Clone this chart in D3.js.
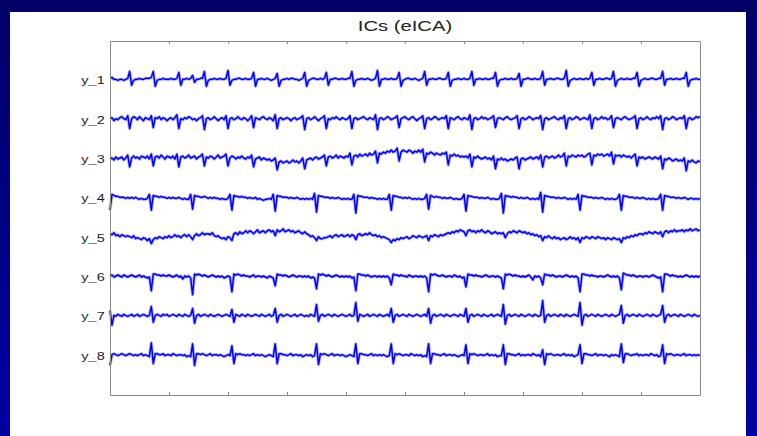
<!DOCTYPE html>
<html>
<head>
<meta charset="utf-8">
<script src="https://cdn.jsdelivr.net/npm/d3@7"></script>
<style>
  html, body { margin: 0; padding: 0; background: #fff; }
  svg { display: block; }
  text { font-family: "Liberation Sans", Arial, Helvetica, sans-serif; }
</style>
</head>
<body>
<svg id="chart" width="757" height="436"></svg>
<script>
// Channel names shown on the y axis, top to bottom
const channelLabels = ["y_1", "y_2", "y_3", "y_4", "y_5", "y_6", "y_7", "y_8"];
// Sample positions of the (unlabelled) x-axis ticks
const xTickValues = [30, 60, 90, 120, 150, 180, 210, 240, 270];
const titleText = "ICs (eICA)";

// Separated components, 301 samples each (10 samples per row)
const ch1 = [
  2,3,1,1,0,1,1,0,1,2,
  9,-5,0,1,1,2,1,1,2,2,
  2,3,9,-6,0,1,1,2,1,1,
  1,2,1,1,2,8,-5,1,1,2,
  1,2,5,-2,1,1,2,2,9,-6,
  0,1,1,2,1,1,2,1,1,2,
  10,-5,0,1,1,2,2,1,1,2,
  1,1,2,8,-6,1,1,2,1,1,
  2,1,0,1,2,7,-6,0,1,1,
  2,1,2,2,1,1,0,1,2,8,
  -6,0,1,2,2,1,1,2,1,2,
  8,-5,1,1,2,2,1,1,2,1,
  1,2,2,9,-6,0,1,1,2,1,
  1,2,1,0,1,2,10,-6,1,1,
  2,1,1,2,1,1,2,8,-6,0,
  1,2,2,1,1,2,1,0,1,2,
  9,-5,1,1,2,1,1,2,2,1,
  1,2,8,-6,0,1,1,2,1,1,
  2,1,1,2,9,-5,1,1,2,1,
  1,2,1,1,2,2,8,-6,0,1,
  1,2,1,1,2,1,1,2,7,-6,
  1,1,2,2,1,1,2,1,1,2,
  9,-5,1,1,2,1,1,2,2,1,
  1,2,10,-6,0,1,2,1,1,2,
  1,1,2,1,2,8,-5,1,1,2,
  1,1,2,2,1,2,9,-6,0,1,
  2,1,1,2,1,1,2,2,8,-6,
  0,1,2,1,1,2,2,1,1,2,
  2,9,-5,1,1,2,1,1,2,1,
  1,2,2,8,-6,0,1,1,2,1,
  1
];
const ch2 = [
  1,2,-1,1,0,2,3,1,0,4,
  -9,1,3,2,0,3,1,-1,2,1,
  0,4,-8,2,1,3,0,2,1,-1,
  1,2,0,2,5,-9,1,0,2,1,
  3,2,0,1,-1,1,2,4,-10,1,
  2,0,1,3,1,-1,1,2,0,4,
  -9,1,2,0,1,3,1,0,2,1,
  -1,1,4,-8,2,1,0,2,3,1,
  0,2,1,-1,5,-9,1,2,0,1,
  2,1,-1,1,2,0,1,2,4,-10,
  1,2,0,1,3,1,-1,1,2,4,
  -9,1,0,2,1,3,1,0,2,1,
  0,1,4,-9,1,2,0,1,2,3,
  1,0,2,1,0,5,-10,1,2,0,
  1,3,2,0,1,2,4,-8,1,2,
  3,1,0,2,3,1,-1,1,2,4,
  -9,1,2,0,1,3,2,0,1,2,
  1,4,-9,2,1,0,2,3,1,0,
  2,1,0,5,-10,1,2,0,1,3,
  1,2,0,1,2,4,-8,1,2,1,
  0,2,3,1,0,1,2,4,-9,1,
  2,0,1,3,2,0,1,2,1,4,
  -10,1,2,0,1,2,3,1,0,2,
  1,4,-9,1,2,0,1,3,2,0,
  1,2,1,0,5,-9,1,2,0,1,
  3,1,2,0,1,4,-8,1,2,1,
  0,2,3,1,0,1,2,4,-9,1,
  2,0,1,3,1,0,2,1,3,1,
  4,-10,1,2,0,1,3,2,0,1,
  2,1,4,-9,1,2,0,1,3,2,
  3
];
const ch3 = [
  0,1,-1,2,0,1,2,-1,1,4,
  -8,1,3,1,2,0,3,2,1,3,
  0,5,-7,2,3,1,4,2,0,3,
  2,1,3,0,5,-8,2,3,1,2,
  4,1,2,3,0,2,3,5,-7,2,
  1,3,2,0,2,4,1,2,3,5,
  -7,1,3,2,0,2,1,3,1,0,
  2,1,4,-8,0,1,2,-1,1,0,
  -1,0,-2,-1,1,-11,-3,-2,-4,-3,
  -2,-4,-3,-1,-3,-2,-4,-2,1,-10,
  -1,0,1,-1,1,2,0,1,2,4,
  -7,2,3,1,2,4,1,3,2,1,
  3,2,6,-6,3,4,2,5,3,4,
  5,3,6,4,5,8,-4,6,5,7,
  6,8,7,9,7,8,11,-2,7,9,
  8,7,9,8,6,8,7,9,7,10,
  -3,6,5,7,6,4,6,5,4,6,
  5,7,-6,4,3,5,3,4,2,3,
  2,3,1,5,-8,2,1,3,1,0,
  1,2,0,1,-1,3,-10,0,-1,1,
  -1,0,-2,-1,0,-1,1,2,-10,0,
  1,-1,0,1,2,0,1,2,0,4,
  -8,2,3,1,2,3,1,2,4,2,
  3,6,-7,3,2,4,3,2,4,3,
  4,2,3,5,6,-6,4,3,5,4,
  5,3,4,5,3,7,-5,4,3,4,
  2,4,3,2,3,1,3,5,-7,2,
  1,2,0,1,2,1,0,2,1,0,
  3,-10,0,-1,1,0,-2,-1,0,-2,
  -1,-2,1,-12,-2,-3,-1,-3,-4,-2,
  -3
];
const ch4 = [
  -12,4,3,2,2,1,1,1,0,1,
  0,1,0,1,0,-1,0,-1,-1,0,
  4,-12,3,2,2,1,2,1,1,0,
  1,0,1,0,0,1,0,-1,0,-1,
  -1,4,-11,3,2,2,1,1,2,1,
  0,1,0,1,0,0,-1,0,-1,-1,
  0,4,-12,3,2,2,1,2,1,1,
  0,1,0,0,1,-1,0,-1,-2,-1,
  -1,0,-1,4,-13,3,2,2,1,1,
  1,0,1,0,0,1,0,-1,0,-1,
  0,-1,0,-1,5,-14,3,2,2,1,
  1,1,0,1,0,0,1,0,-1,0,
  -1,0,-1,-1,4,-15,3,2,2,1,
  1,1,0,1,0,0,-1,0,-1,0,
  -1,-1,4,-12,3,2,2,1,1,0,
  1,0,1,0,-1,0,-1,0,-1,-1,
  0,4,-11,3,2,1,2,1,1,0,
  1,0,0,1,0,-1,0,-1,-1,0,
  4,-13,3,2,2,1,1,1,0,1,
  0,0,1,0,-1,0,-1,-1,0,5,
  -15,3,2,2,1,2,1,1,0,1,
  0,0,1,0,-1,0,-1,0,-1,6,
  -14,3,2,2,1,1,1,0,1,0,
  0,1,0,-1,0,-1,0,-1,4,-12,
  3,2,2,1,1,1,0,1,0,0,
  1,0,-1,0,-1,0,-1,-1,0,4,
  -12,3,2,2,1,1,1,0,1,0,
  0,1,0,-1,0,-1,0,-1,-1,0,
  4,-12,3,2,2,1,1,1,0,1,
  0,0,1,0,-1,0,0,-1,0,-1,
  0
];
const ch5 = [
  4,3,5,2,3,1,3,2,1,2,
  1,0,2,-1,0,-1,-2,0,-1,-3,
  -1,-6,-2,0,-1,1,0,-1,1,0,
  2,0,1,3,1,2,0,2,3,1,
  3,1,-2,2,4,2,3,5,3,4,
  4,3,5,2,1,2,0,-1,0,-2,
  1,0,-3,4,5,3,6,4,5,7,
  5,7,6,4,6,8,5,6,7,5,
  7,8,6,7,2,8,6,7,9,6,
  7,8,6,7,5,6,7,5,4,6,
  4,3,1,2,0,-3,1,-1,-1,0,
  0,1,2,0,2,3,1,2,3,1,
  2,3,1,3,2,-2,3,4,2,3,
  4,3,5,3,2,3,1,2,0,1,
  0,-1,-2,-5,-2,-3,-1,-2,0,-1,
  0,1,-1,0,2,1,0,2,1,0,
  1,2,-3,2,1,3,2,1,3,2,
  3,4,5,4,6,5,7,6,8,7,
  6,2,7,8,6,7,5,7,6,8,
  6,5,7,6,4,5,6,4,5,4,
  5,0,4,6,5,7,6,5,7,6,
  5,6,4,5,3,4,2,3,1,2,
  -3,1,0,2,0,-1,1,-1,0,-2,
  -1,0,-2,-1,1,-1,0,-2,0,-5,
  0,-1,1,0,-1,1,0,-1,1,0,
  -1,0,-2,0,-1,-2,0,-1,-2,-1,
  -5,0,-1,1,0,2,1,3,2,4,
  4,3,5,4,6,5,4,6,5,4,
  6,1,6,7,5,7,6,8,6,7,
  7,8,6,8,7,9,7,8,9,7,
  8
];
const ch6 = [
  1,2,0,1,2,1,0,2,1,0,
  1,2,1,0,1,2,0,1,0,-1,
  0,-14,3,3,2,2,1,2,1,1,
  2,1,0,1,2,0,1,-2,1,0,
  1,-1,-18,3,2,3,2,1,2,1,
  0,1,2,1,0,1,0,1,-1,0,
  1,0,-15,3,2,3,2,1,2,1,
  1,0,1,2,0,1,1,0,1,0,
  -1,1,0,-1,-9,3,2,2,1,2,
  1,0,1,2,1,0,1,1,0,1,
  0,1,-1,0,-1,-12,3,2,3,2,
  1,2,1,0,1,2,1,0,1,0,
  1,0,1,-1,0,-14,3,3,2,2,
  1,2,1,0,1,1,0,1,0,1,
  0,1,-1,-8,3,2,2,1,2,1,
  1,0,2,1,0,1,1,0,1,0,
  1,-1,-15,3,2,3,2,1,1,2,
  1,0,1,1,0,2,1,0,1,-1,
  0,-10,3,2,2,1,2,1,1,0,
  1,2,1,0,1,1,0,1,0,-1,
  -12,3,2,3,2,1,2,1,1,0,
  1,0,1,2,0,-3,1,0,1,-1,
  -8,3,2,2,1,2,1,0,1,1,
  0,1,2,1,0,1,0,1,-1,-15,
  3,3,2,2,1,2,1,1,0,1,
  1,0,1,2,1,0,1,0,1,-1,
  -13,4,3,2,2,1,2,1,0,1,
  1,0,1,1,0,1,2,1,0,-1,
  0,-15,3,3,2,1,2,1,1,0,
  1,0,1,2,1,0,1,0,1,0,
  1
];
const ch7 = [
  6,-9,1,0,2,1,0,2,1,0,
  1,2,0,1,2,0,1,2,1,0,
  1,10,-6,1,2,1,0,2,1,2,
  0,1,2,1,0,2,1,0,2,1,
  0,1,8,-7,1,2,0,1,2,1,
  0,2,1,0,1,2,1,0,1,2,
  1,0,7,-6,2,1,0,2,1,0,
  2,1,0,1,2,1,0,2,1,0,
  1,2,0,1,8,-6,1,2,0,1,
  2,1,0,1,2,0,1,2,1,0,
  1,0,2,1,0,12,-5,1,2,0,
  1,2,1,0,2,1,0,1,2,1,
  0,1,2,0,1,14,-5,2,1,0,
  1,2,0,1,2,1,0,2,1,0,
  1,2,0,8,-6,1,2,0,1,2,
  1,0,2,1,0,1,2,1,0,1,
  2,0,8,-7,1,2,0,1,2,1,
  0,2,1,0,1,2,1,0,2,1,
  0,8,-6,1,2,0,1,2,1,0,
  2,1,0,1,2,0,1,2,1,0,
  12,-8,1,2,0,1,2,1,0,2,
  1,0,1,2,1,0,2,1,0,1,
  16,-6,1,2,0,1,2,1,0,2,
  1,0,2,1,0,1,2,1,0,14,
  -9,1,2,0,1,2,1,0,2,1,
  0,1,2,1,0,2,1,0,1,2,
  11,-7,1,2,0,1,2,1,0,2,
  1,0,1,2,1,0,2,1,0,1,
  2,11,-6,1,2,0,1,2,1,0,
  2,1,0,1,2,1,0,2,1,0,
  1
];
const ch8 = [
  -10,1,2,1,0,1,2,1,0,1,
  2,1,0,1,0,1,2,0,1,0,
  -1,13,-8,2,2,1,1,2,0,1,
  1,0,2,1,0,1,1,0,1,-1,
  0,-1,12,-10,2,2,1,2,1,0,
  1,2,0,1,1,0,1,0,-1,0,
  1,0,10,-8,2,1,2,1,1,0,
  1,0,1,2,0,1,0,1,0,-1,
  0,1,0,-1,12,-8,2,2,1,1,
  0,1,2,0,1,1,0,1,-1,0,
  1,0,1,-1,0,12,-9,2,1,2,
  1,0,1,2,0,1,1,0,1,0,
  -1,0,1,0,-1,12,-8,2,2,1,
  1,0,1,2,0,1,0,1,0,1,
  0,-1,0,12,-8,2,1,2,1,0,
  1,1,0,2,1,0,1,0,1,-1,
  0,-1,12,-8,2,2,1,1,0,1,
  2,0,1,1,0,1,0,-1,0,1,
  0,11,-8,2,1,2,1,0,1,1,
  0,1,2,0,1,0,1,-1,0,0,
  11,-9,2,2,1,1,0,1,2,0,
  1,0,1,1,0,2,1,0,1,-1,
  6,-9,2,1,2,1,0,1,1,0,
  1,2,0,1,0,1,-1,0,1,11,
  -8,2,2,1,1,0,1,2,0,1,
  1,0,1,0,-1,1,0,1,0,-1,
  12,-7,2,2,1,0,1,1,2,0,
  1,0,1,1,0,2,1,0,1,-1,
  0,11,-8,2,1,2,1,0,1,1,
  0,1,2,0,1,1,0,1,0,1,
  0
];
const channels = [ch1, ch2, ch3, ch4, ch5, ch6, ch7, ch8];

const width = 757, height = 436;
const svg = d3.select("#chart");

// Slide backdrop: blue frame with a white panel
const defs = svg.append("defs");
const grad = defs.append("linearGradient")
  .attr("id", "slideBg").attr("x1", 0).attr("y1", 0).attr("x2", 0).attr("y2", 1);
grad.append("stop").attr("offset", "0%").attr("stop-color", "#000066");
grad.append("stop").attr("offset", "100%").attr("stop-color", "#0000a3");
svg.append("rect").attr("width", width).attr("height", height).attr("fill", "url(#slideBg)");
svg.append("rect").attr("x", 10).attr("y", 12).attr("width", 736).attr("height", height - 12)
  .attr("fill", "#ffffff");

const plot = { left: 110, right: 700, top: 41, bottom: 395 };
const nSamples = ch1.length;
const x = d3.scaleLinear().domain([0, nSamples - 1]).range([plot.left, plot.right]);
const y = d3.scaleLinear().domain([0, 9]).range([plot.top, plot.bottom]);
const unitsPerChannel = 40; // amplitude units per channel spacing

// Traces: a soft wide stroke under a solid core gives the dense-signal look
const traceGroup = svg.append("g");
channels.forEach((vals, k) => {
  const line = d3.line()
    .x((v, i) => x(i))
    .y(v => y(k + 1 - v / unitsPerChannel));
  const d = line(vals);
  traceGroup.append("path")
    .attr("d", d)
    .attr("fill", "none")
    .attr("stroke", "#0000ff")
    .attr("stroke-opacity", 0.3)
    .attr("stroke-width", 3.2)
    .attr("stroke-linejoin", "round");
  traceGroup.append("path")
    .attr("d", d)
    .attr("fill", "none")
    .attr("stroke", "#0000ff")
    .attr("stroke-width", 1.5)
    .attr("stroke-linejoin", "round");
});

// Axes box with inward ticks
const axisColor = "#8a8a8a";
function styleAxis(g) {
  g.selectAll(".domain").attr("stroke", axisColor);
  g.selectAll(".tick line").attr("stroke", axisColor);
}
svg.append("g")
  .attr("transform", `translate(0,${plot.bottom})`)
  .call(d3.axisBottom(x).tickValues(xTickValues).tickSizeInner(-3).tickSizeOuter(0).tickFormat(""))
  .call(styleAxis);
svg.append("g")
  .attr("transform", `translate(0,${plot.top})`)
  .call(d3.axisTop(x).tickValues(xTickValues).tickSizeInner(-3).tickSizeOuter(0).tickFormat(""))
  .call(styleAxis);
svg.append("g")
  .attr("transform", `translate(${plot.right},0)`)
  .call(d3.axisRight(y).tickValues([]).tickSizeOuter(0))
  .call(styleAxis);

const leftAxis = svg.append("g")
  .attr("transform", `translate(${plot.left},0)`)
  .call(d3.axisLeft(y)
    .tickValues(d3.range(1, channelLabels.length + 1))
    .tickFormat(d => channelLabels[d - 1])
    .tickSizeInner(0).tickSizeOuter(0).tickPadding(4))
  .call(styleAxis);
leftAxis.selectAll(".tick text")
  .attr("fill", "#222")
  .style("font-size", "11px")
  .style("font-family", "'Liberation Sans', Arial, sans-serif")
  .attr("transform", "scale(1.32,1)");

// Title
svg.append("text")
  .attr("transform", `translate(${(plot.left + plot.right) / 2},31) scale(1.35,1)`)
  .attr("text-anchor", "middle")
  .attr("fill", "#222")
  .style("font-size", "15px")
  .text(titleText);
</script>
</body>
</html>
